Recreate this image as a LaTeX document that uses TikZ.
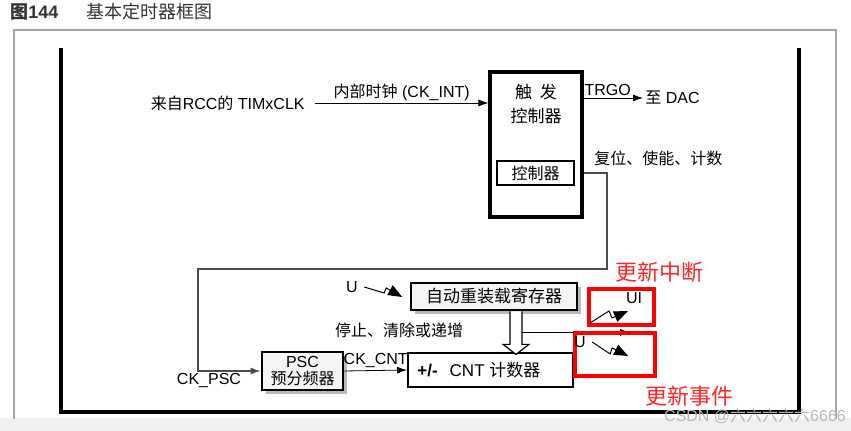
\documentclass[tikz,border=0pt]{standalone}
\usepackage{fontspec}
\setmainfont{Liberation Sans}
\newfontfamily\cjk{Noto Sans CJK SC}
\newcommand{\zh}[1]{{\cjk #1}}
\usetikzlibrary{arrows.meta,shadows}

\tikzset{
  blk/.style={draw, line width=1.6pt, inner sep=0pt},
  regbox/.style={draw, line width=1.4pt, fill=gray!8, inner sep=0pt,
    drop shadow={shadow xshift=2pt, shadow yshift=-2pt, fill=gray!55, opacity=1}},
  wire/.style={draw=gray!60!black, line width=0.6pt},
  bolt/.style={line width=0.5pt, -{Triangle[length=7pt,width=5.5pt]}},
  hollow/.style={fill=white, line width=0.6pt},
  annot/.style={draw=red, line width=2pt},
  note/.style={text=red!85, font=\fontsize{11}{12}\selectfont},
}

\begin{document}
\begin{tikzpicture}[x=0.5pt, y=-0.5pt, >={Latex[length=5pt,width=3.5pt]},
  every node/.style={font=\fontsize{8}{9.5}\selectfont, inner sep=1pt}]
  \useasboundingbox (0,0) rectangle (851,431);
  % page and frames
  \fill[gray!12] (0,418) rectangle (851,431);
  \draw[gray!70, line width=1pt] (14,419) -- (14,30) -- (836,30) -- (836,419);
  \draw[line width=1.6pt] (61,48) -- (61,412) -- (799,412) -- (799,48);
  \node[anchor=west, font=\fontsize{9}{10}\selectfont, text=black!80] (title) at (8,12)
    {\textbf{\zh{图}144}\hspace{14pt}\zh{基本定时器框图}};

  % trigger controller
  \node[blk, minimum width=46pt, minimum height=72.5pt] (trg) at (536,144.5) {};
  \node[align=center, font=\fontsize{8.5}{12}\selectfont] (trgtxt) at (536,104)
    {\zh{触\hspace{4pt}发}\\\zh{控制器}};
  \node[draw, line width=1.2pt, minimum width=38.5pt, minimum height=12pt] (ctl) at (535.5,173) {\zh{控制器}};

  \node[anchor=east] (rcc) at (307,103) {\zh{来自}RCC\zh{的} TIMxCLK};
  \draw[->] ([xshift=4pt]rcc.east) -- (rcc.east -| trg.west)
    node[midway, above] (ckint) {\zh{内部时钟} (CK\_INT)};

  \coordinate (trgo) at (582,98);
  \node[anchor=west] (dac) at (643,98) {\zh{至} DAC};
  \draw[->] (trgo) -- (dac.west) node[pos=0.42, above] (trgolbl) {TRGO};
  \node[anchor=west] (rst) at (592,158) {\zh{复位、使能、计数}};

  % prescaler and counter
  \node[regbox, minimum width=40.5pt, minimum height=19pt, align=center,
    font=\fontsize{8}{8.5}\selectfont] (psc) at (302.5,371) {PSC\\\zh{预分频器}};
  \node (ckpsc) at (209,381) {CK\_PSC};
  \draw[wire, ->] (ctl.east -| trg.east) -- (607,173) -- (607,269) -- (198,269) |- (psc.west);

  \node[draw, line width=1pt, minimum width=82.5pt, minimum height=17pt] (cnt) at (490.5,370) {};
  \node[anchor=west, font=\fontsize{8.5}{10}\selectfont] (cnttxt) at ([xshift=4pt]cnt.west)
    {\textbf{+/-}\hspace{6pt}CNT \zh{计数器}};
  \draw[->] (psc.east) -- (cnt.west) node[midway, above] (ckcnt) {CK\_CNT};

  % auto-reload register
  \node[regbox, minimum width=83pt, minimum height=13.5pt, font=\fontsize{8.5}{10}\selectfont]
    (arr) at (494,296.5) {\zh{自动重装载寄存器}};
  \node (uarr) at (352,287) {U};
  \draw[bolt] ([xshift=2pt]uarr.east) -- ++(20,6) -- ++(2,-5) -- ++(16,9);
  \draw[hollow] ([xshift=8pt]arr.south) -- ++(0,33) -- ++(-7,0) -- ++(13,10)
    -- ++(13,-10) -- ++(-7,0) -- ++(0,-33);
  \draw[->] ([shift={(28,21)}]arr.south) -- ++(108,0);
  \node (stop) at (399,330) {\zh{停止、清除或递增}};

  % update interrupt / event
  \draw[annot] (589,289) rectangle (654,325);
  \draw[annot] (575,333) rectangle (655,376);
  \node (ui) at (634,298) {UI};
  \coordinate (uistart) at (590,323);
  \draw[bolt] (uistart) -- ++(19,-12) -- ++(3,7) -- ++(16,-7);
  \node (uevt) at (580,342) {U};
  \draw[bolt] ([xshift=2pt]uevt.east) -- ++(18,12) -- ++(2,-6) -- ++(16,8);
  \node[note] (uilbl) at (659,272) {\zh{更新中断}};
  \node[note] (evtlbl) at (689,396) {\zh{更新事件}};

  \node[text=gray!55, font=\fontsize{8}{9}\selectfont] (wm) at (755,416) {CSDN @\zh{六六六六六}6666};
\end{tikzpicture}
\end{document}
